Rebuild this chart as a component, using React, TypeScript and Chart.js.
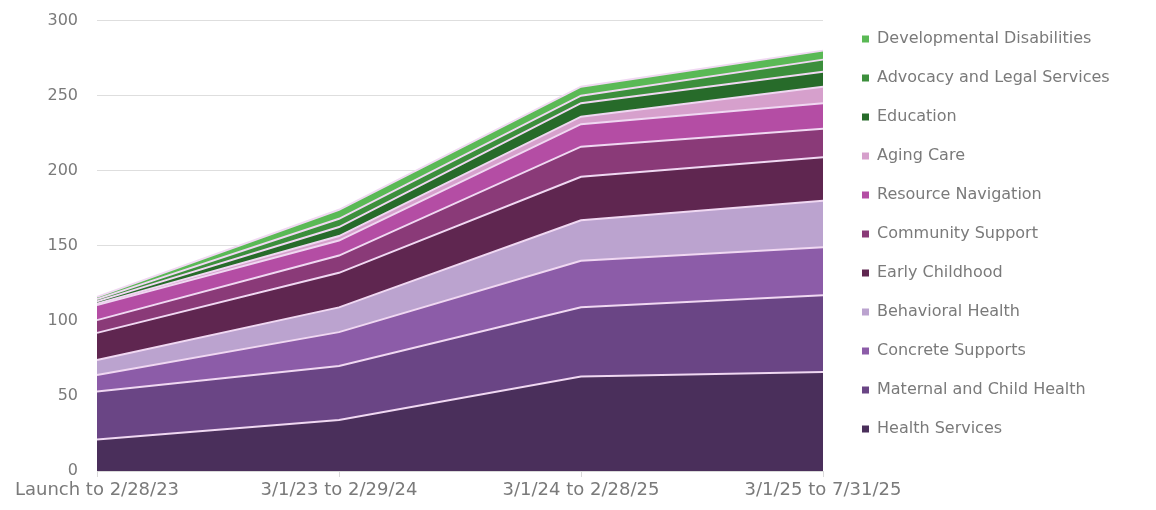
import React, { useEffect, useRef } from "react";
import { Chart, registerables } from "chart.js";

Chart.register(...registerables);

const categories = ["Launch to 2/28/23", "3/1/23 to 2/29/24", "3/1/24 to 2/28/25", "3/1/25 to 7/31/25"];

const seriesNames = [
  "Health Services",
  "Maternal and Child Health",
  "Concrete Supports",
  "Behavioral Health",
  "Early Childhood",
  "Community Support",
  "Resource Navigation",
  "Aging Care",
  "Education",
  "Advocacy and Legal Services",
  "Developmental Disabilities",
];

const healthServices = [21, 34, 63, 66];
const maternalChildHealth = [32, 36, 46, 51];
const concreteSupports = [11, 22.5, 31, 32];
const behavioralHealth = [10, 16.5, 27, 31];
const earlyChildhood = [18, 23, 29, 29];
const communitySupport = [8.5, 11.5, 20, 19];
const resourceNavigation = [10, 10, 15, 17];
const agingCare = [1, 3, 5, 11];
const education = [1.5, 6, 9, 10];
const advocacyLegal = [1.5, 5.5, 5, 8];
const developmentalDisabilities = [1.5, 6, 6, 6];

const seriesValues = [
  healthServices,
  maternalChildHealth,
  concreteSupports,
  behavioralHealth,
  earlyChildhood,
  communitySupport,
  resourceNavigation,
  agingCare,
  education,
  advocacyLegal,
  developmentalDisabilities,
];

const seriesColors = [
  "#4a2f5b",
  "#6a4585",
  "#8c5ca8",
  "#bba3cf",
  "#5f2650",
  "#8a3a78",
  "#b44da4",
  "#d6a0cc",
  "#276b2a",
  "#3c8f3c",
  "#5ab955",
];

const yTicks = [0, 50, 100, 150, 200, 250, 300];

const FONT = "'DejaVu Sans', sans-serif";
const TEXT = "#7a7a7a";

export default function App() {
  const ref = useRef<HTMLCanvasElement | null>(null);

  useEffect(() => {
    if (!ref.current) return;
    const legendPlugin = {
      id: "legendPlace",
      beforeInit(chart: any) {
        const lg = chart.legend;
        if (lg) {
          const orig = lg.fit.bind(lg);
          lg.fit = function () {
            orig();
            this.width = 325;
          };
        }
      },
      beforeDraw(chart: any) {
        const lg = chart.legend;
        if (lg) {
          lg.left = 831;
          lg.right = lg.left + lg.width;
          lg.top = 0;
          lg.bottom = lg.top + lg.height;
        }
      },
    };

    const chart = new Chart(ref.current, {
      type: "line",
      data: {
        labels: categories,
        datasets: seriesNames.map((name, i) => ({
          label: name,
          data: seriesValues[i],
          backgroundColor: seriesColors[i],
          borderColor: "#f0d8f2",
          borderWidth: 2,
          fill: i === 0 ? "origin" : "-1",
          pointRadius: 0,
          pointHoverRadius: 0,
          tension: 0,
        })),
      },
      options: {
        animation: false,
        responsive: true,
        maintainAspectRatio: false,
        layout: { padding: { top: 12, bottom: 1, left: 0, right: 0 } },
        plugins: {
          tooltip: { enabled: false },
          legend: {
            position: "right",
            align: "start",
            reverse: true,
            labels: {
              boxWidth: 7,
              boxHeight: 7,
              padding: 23,
              color: TEXT,
              font: { family: FONT, size: 16 },
              generateLabels: (chart: any) =>
                Chart.defaults.plugins.legend.labels
                  .generateLabels(chart)
                  .map((l: any) => ({ ...l, lineWidth: 0, strokeStyle: "rgba(0,0,0,0)" })),
            },
          },
        },
        scales: {
          x: {
            offset: false,
            afterFit: (scale: any) => {
              scale.height = 30;
            },
            grid: { display: true, drawOnChartArea: false, color: "#d9d9d9", tickLength: 6 },
            border: { display: true, color: "#d9d9d9" },
            ticks: {
              color: TEXT,
              font: { family: FONT, size: 18 },
              padding: 3,
              maxRotation: 0,
              autoSkip: false,
            },
          },
          y: {
            stacked: true,
            min: 0,
            max: 300,
            afterFit: (scale: any) => {
              scale.width = 89;
            },
            afterBuildTicks: (scale: any) => {
              scale.ticks = yTicks.map((v) => ({ value: v }));
            },
            grid: {
              color: "#dedede",
              drawTicks: true,
              tickLength: 16,
              tickColor: "rgba(0,0,0,0)",
              lineWidth: 1,
            },
            border: { display: false },
            ticks: {
              color: TEXT,
              font: { family: FONT, size: 16 },
              padding: 3,
            },
          },
        },
      },
      plugins: [legendPlugin],
    });
    return () => chart.destroy();
  }, []);

  return (
    <div style={{ width: 1140, height: 494, position: "relative" }}>
      <canvas ref={ref} />
    </div>
  );
}
